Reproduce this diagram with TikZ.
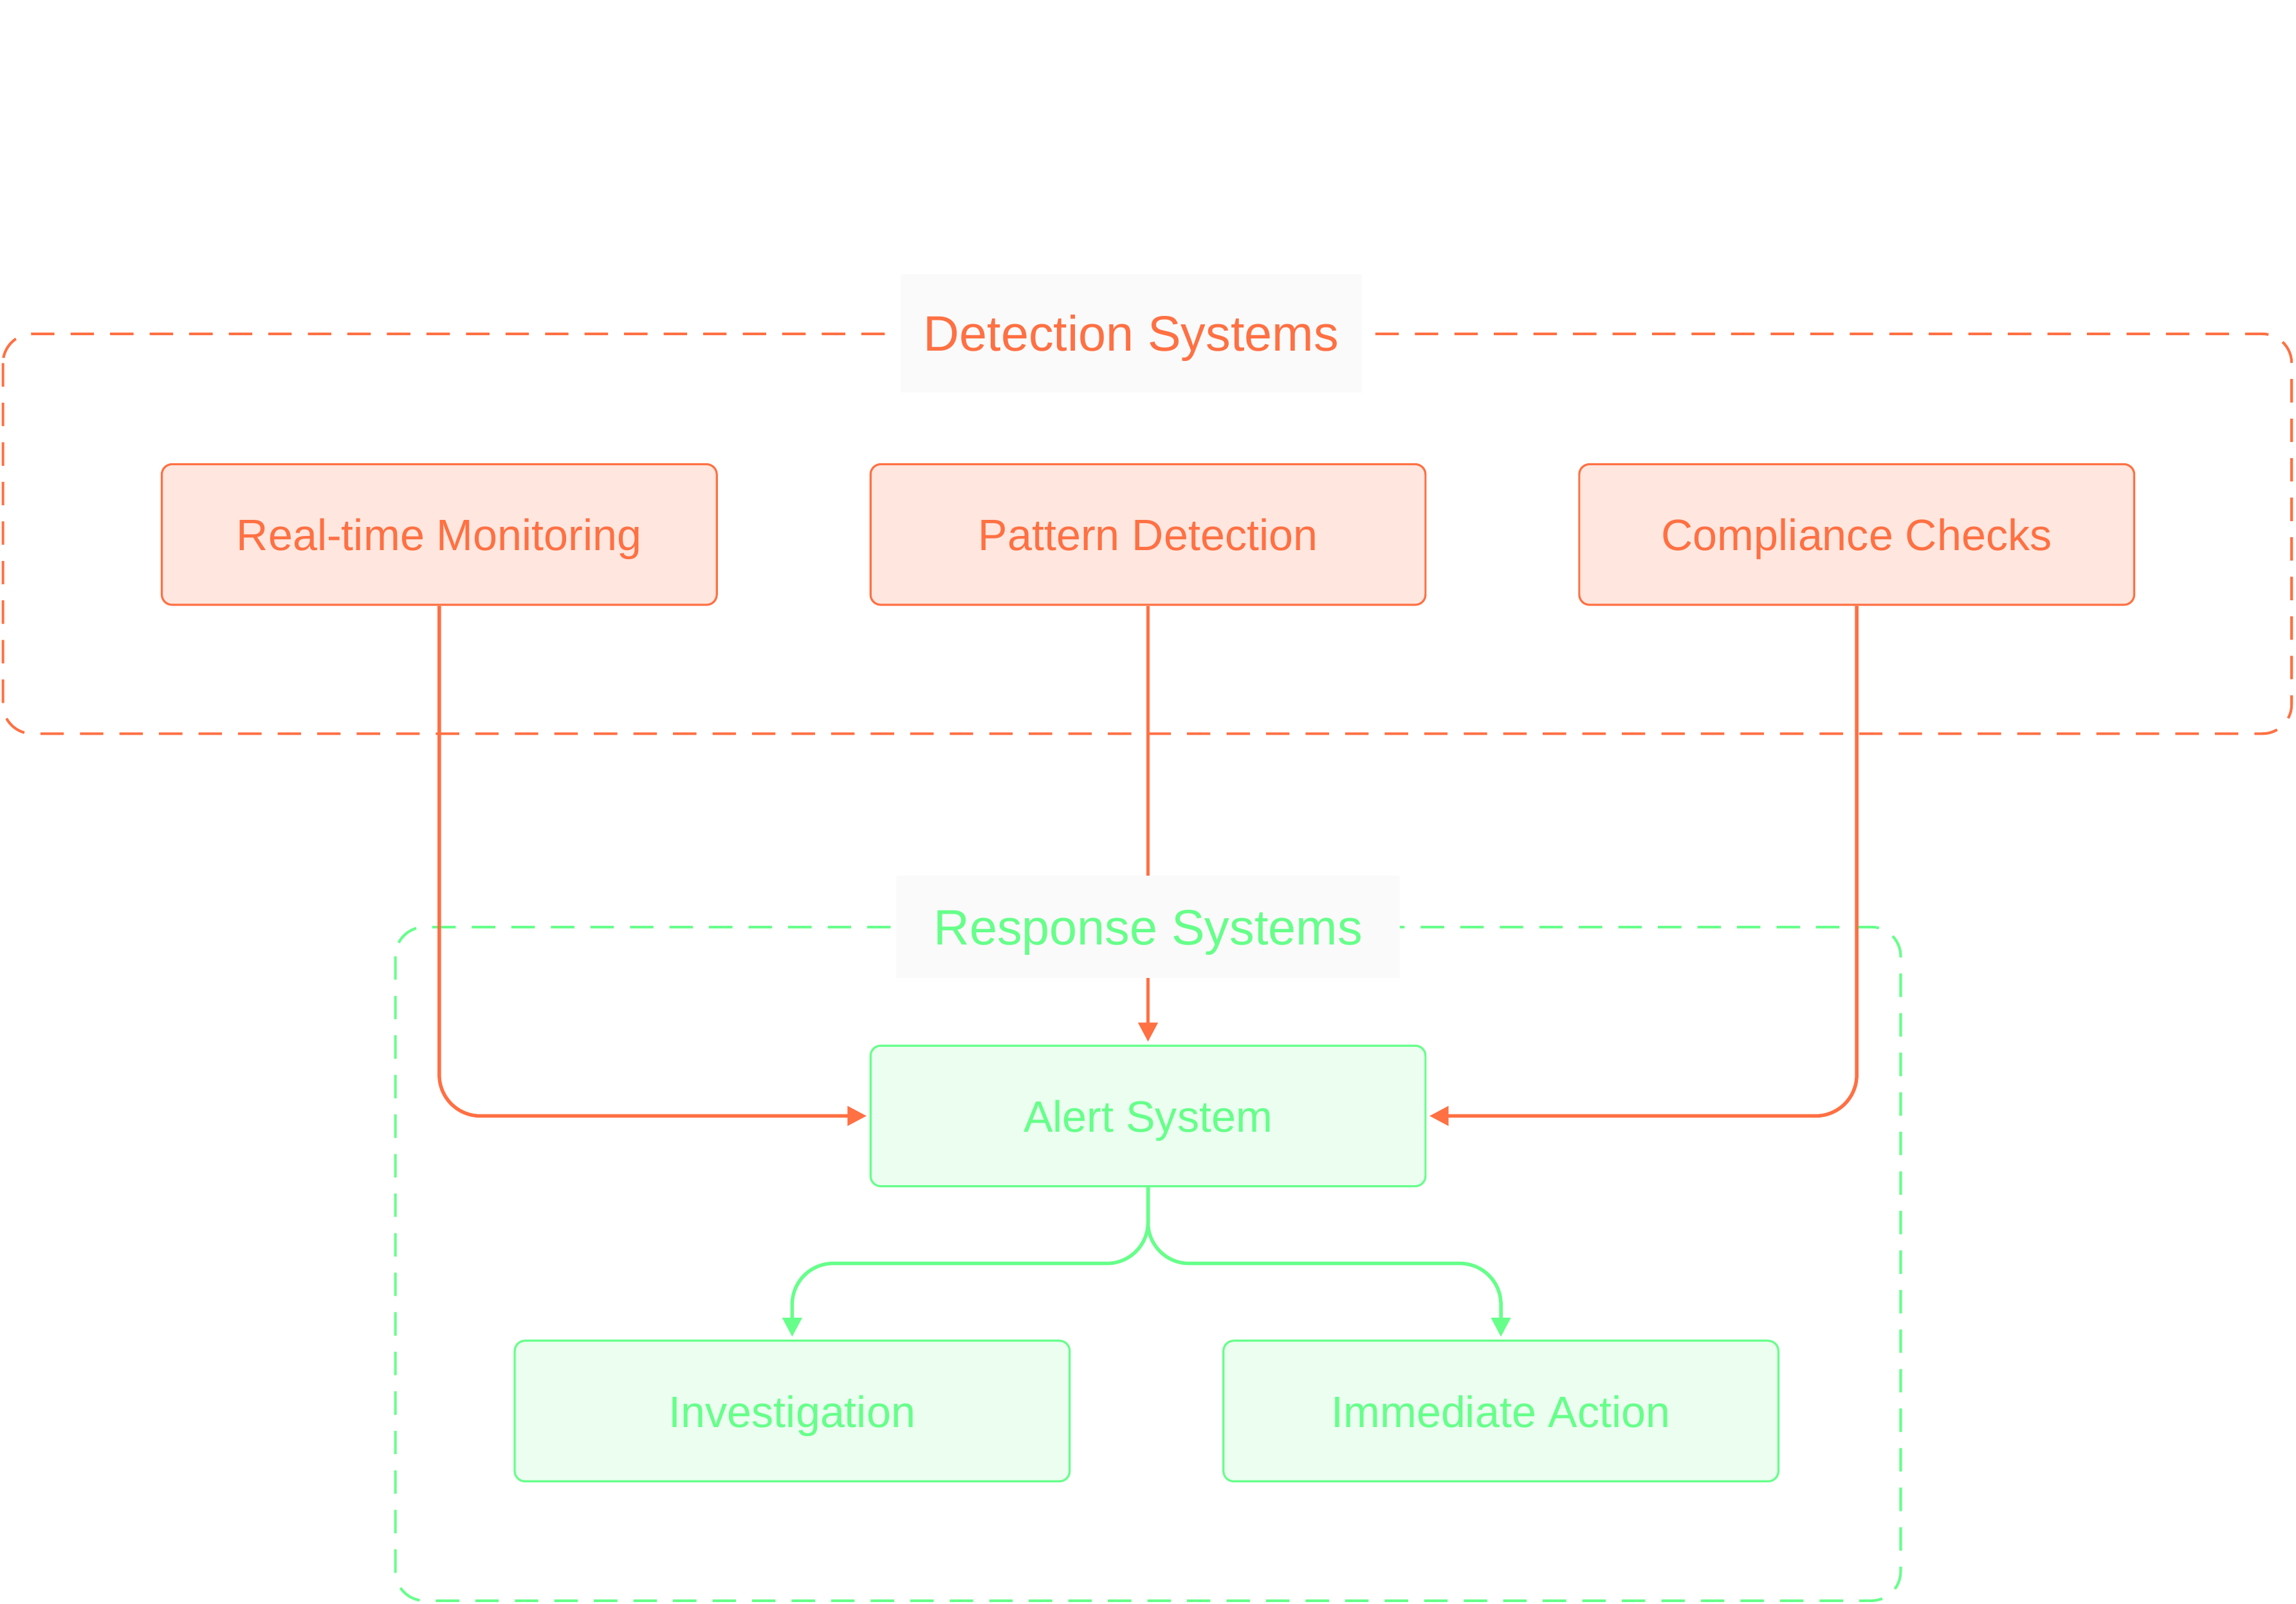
\documentclass[tikz,border=0pt]{standalone}
\usepackage{fontspec}
\setmainfont{Liberation Sans}
\usetikzlibrary{arrows.meta,positioning}
\definecolor{orng}{HTML}{FF7043}
\definecolor{orngfill}{HTML}{FFE7DF}
\definecolor{grn}{HTML}{66FF8A}
\definecolor{grnfill}{HTML}{EBFEF0}
\definecolor{lblfill}{HTML}{FAFAFA}

\begin{document}
\begin{tikzpicture}[x=0.5pt,y=-0.5pt,
  detbox/.style={draw=orng,fill=orngfill,text=orng,line width=0.7pt,rounded corners=3.5pt,
                 minimum width=189.5pt,minimum height=48pt,text height=12.5pt,text depth=1.5pt,
                 font=\fontsize{15}{18}\selectfont},
  resbox/.style={detbox,draw=grn,fill=grnfill,text=grn},
  group/.style={dash pattern=on 8pt off 5.5pt,line width=0.9pt,rounded corners=10pt},
  title/.style={fill=lblfill,font=\fontsize{17}{20}\selectfont,inner sep=0pt,text height=14pt,text depth=2pt},
  flow/.style={line width=1.2pt,rounded corners=14pt,shorten >=1pt,-{Triangle[length=6.5pt,width=6.5pt]}}]
\useasboundingbox (0,0) rectangle (1568,1095);
% groupes
\draw[group,draw=orng] (2,228) rectangle (1565,501);
\draw[group,draw=grn] (270,633) rectangle (1298,1093);
% detection
\node[detbox] (rtm) at (300,365) {Real-time Monitoring};
\node[detbox] (pat) at (784,365) {Pattern Detection};
\node[detbox] (comp) at (1268,365) {Compliance Checks};
% reponse
\node[resbox] (alert) at (784,762) {Alert System};
\node[resbox] (inv) at (541,963.5) {Investigation};
\node[resbox] (act) at (1025,963.5) {Immediate Action};
% fleches
\draw[flow,orng] (rtm.south) |- (alert.west);
\draw[flow,orng] (pat) -- (alert);
\draw[flow,orng] (comp.south) |- (alert.east);
\draw[flow,grn] (alert.south) -- ++(0,52) -| (inv.north);
\draw[flow,grn] (alert.south) -- ++(0,52) -| (act.north);
% titres
\node[title,text=orng,minimum width=157.5pt,minimum height=40.5pt] (dettitle) at (772.5,227.5) {Detection Systems};
\node[title,text=grn,minimum width=172pt,minimum height=35pt] (restitle) at (784,633) {Response Systems};
\end{tikzpicture}
\end{document}
